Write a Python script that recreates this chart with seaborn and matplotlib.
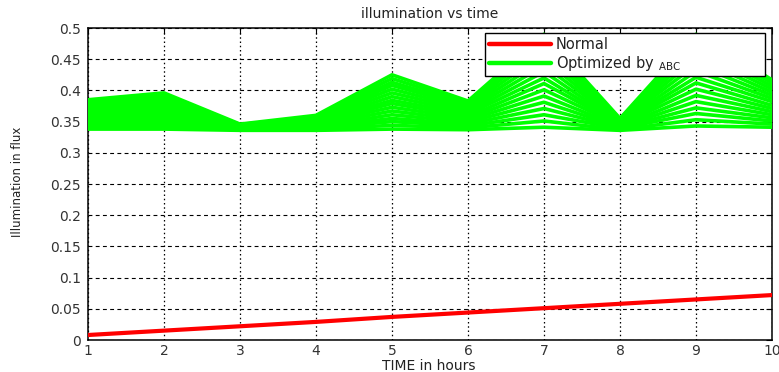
import numpy as np
import pandas as pd
import matplotlib
matplotlib.use("Agg")
import matplotlib.pyplot as plt
from matplotlib.lines import Line2D
import seaborn as sns

# ---------------- data ----------------
time_hours = [1, 2, 3, 4, 5, 6, 7, 8, 9, 10]
normal = [0.008, 0.015, 0.022, 0.029, 0.037, 0.044, 0.051, 0.058, 0.065, 0.072]

opt_01 = [0.338, 0.338, 0.336, 0.336, 0.338, 0.337, 0.341, 0.336, 0.343, 0.341]
opt_02 = [0.341, 0.342, 0.337, 0.338, 0.344, 0.340, 0.351, 0.337, 0.353, 0.346]
opt_03 = [0.344, 0.346, 0.337, 0.339, 0.350, 0.343, 0.361, 0.339, 0.363, 0.351]
opt_04 = [0.347, 0.350, 0.338, 0.341, 0.355, 0.346, 0.371, 0.340, 0.372, 0.356]
opt_05 = [0.351, 0.353, 0.339, 0.342, 0.361, 0.349, 0.381, 0.341, 0.382, 0.361]
opt_06 = [0.354, 0.357, 0.339, 0.344, 0.367, 0.352, 0.391, 0.342, 0.392, 0.366]
opt_07 = [0.357, 0.361, 0.340, 0.346, 0.373, 0.355, 0.401, 0.344, 0.402, 0.371]
opt_08 = [0.360, 0.365, 0.341, 0.347, 0.379, 0.358, 0.411, 0.345, 0.412, 0.376]
opt_09 = [0.363, 0.369, 0.341, 0.349, 0.384, 0.362, 0.420, 0.346, 0.421, 0.382]
opt_10 = [0.366, 0.373, 0.342, 0.350, 0.390, 0.365, 0.430, 0.347, 0.431, 0.387]
opt_11 = [0.369, 0.377, 0.343, 0.352, 0.396, 0.368, 0.440, 0.349, 0.441, 0.392]
opt_12 = [0.372, 0.381, 0.343, 0.354, 0.402, 0.371, 0.450, 0.350, 0.451, 0.397]
opt_13 = [0.376, 0.384, 0.344, 0.355, 0.408, 0.374, 0.460, 0.351, 0.461, 0.402]
opt_14 = [0.379, 0.388, 0.345, 0.357, 0.413, 0.377, 0.470, 0.352, 0.470, 0.407]
opt_15 = [0.382, 0.392, 0.345, 0.358, 0.419, 0.380, 0.480, 0.354, 0.480, 0.412]
opt_16 = [0.385, 0.396, 0.346, 0.360, 0.425, 0.383, 0.490, 0.355, 0.490, 0.417]
optimized = [opt_01, opt_02, opt_03, opt_04, opt_05, opt_06, opt_07, opt_08,
             opt_09, opt_10, opt_11, opt_12, opt_13, opt_14, opt_15, opt_16]

y_ticks = [0, 0.05, 0.1, 0.15, 0.2, 0.25, 0.3, 0.35, 0.4, 0.45, 0.5]
y_tick_labels = ["0", "0.05", "0.1", "0.15", "0.2", "0.25", "0.3", "0.35", "0.4", "0.45", "0.5"]

title_text = "illumination vs time"
xlabel_text = "TIME in hours"
ylabel_text = "Illumination in flux"
legend_labels = ["Normal", r"Optimized by $_{\mathregular{ABC}}$"]

# ---------------- frames ----------------
df_norm = pd.DataFrame({"time": time_hours, "value": normal})
rows = []
for i, series in enumerate(optimized):
    for t, v in zip(time_hours, series):
        rows.append({"time": t, "value": v, "line": i})
df_opt = pd.DataFrame(rows)

# ---------------- style ----------------
sns.set_style("white")
plt.rcParams["font.family"] = ["DejaVu Sans"]
plt.rcParams["mathtext.default"] = "regular"

W, H = 779, 372
fig = plt.figure(figsize=(W / 100, H / 100), dpi=100)
L, R, T, B = 88, 772, 28, 340
ax = fig.add_axes([L / W, 1 - B / H, (R - L) / W, (B - T) / H])

RED = "#ff0000"
GREEN = "#00ff00"

sns.lineplot(data=df_norm, x="time", y="value", color=RED, linewidth=3.0,
             ax=ax, legend=False, zorder=3)
sns.lineplot(data=df_opt, x="time", y="value", units="line", estimator=None,
             color=GREEN, linewidth=2.6, ax=ax, legend=False, zorder=3)

ax.set_xlim(1, 10)
ax.set_ylim(0, 0.5)
ax.set_xticks(time_hours)
ax.set_xticklabels([str(t) for t in time_hours])
ax.set_yticks(y_ticks)
ax.set_yticklabels(y_tick_labels)
ax.set_xlabel("")
ax.set_ylabel("")

ax.set_axisbelow(True)
ax.xaxis.grid(True, color="black", linestyle=(0, (1.2, 2.2)), linewidth=0.9)
ax.yaxis.grid(True, color="black", linestyle=(0, (3.5, 3)), linewidth=0.8)

for s in ax.spines.values():
    s.set_visible(True)
    s.set_color("black")
    s.set_linewidth(1.1)

ax.tick_params(axis="both", direction="in", length=4, width=0.8,
               top=True, right=True, colors="black",
               labelcolor="#333333", labelsize=10)
ax.tick_params(axis="y", pad=5)
ax.tick_params(axis="x", pad=3)

fig.text(430 / W, 1 - 14 / H, title_text, ha="center", va="center",
         fontsize=10, color="#222222")
fig.text(429 / W, 1 - 366 / H, xlabel_text, ha="center", va="center",
         fontsize=10, color="#222222")
fig.text(18 / W, 1 - 182 / H, ylabel_text, ha="center", va="center",
         rotation=90, fontsize=8.5, color="#222222",
         family=["Liberation Sans Narrow", "DejaVu Sans"])

handles = [Line2D([0], [0], color=RED, linewidth=3.2),
           Line2D([0], [0], color=GREEN, linewidth=3.2)]
x0 = (485 - L) / (R - L)
x1 = (765 - L) / (R - L)
ytop = (B - 33) / (B - T)
ybot = (B - 73) / (B - T)
leg = ax.legend(handles, legend_labels, loc="upper left",
                bbox_to_anchor=(x0, ybot, x1 - x0, ytop - ybot), mode="expand",
                borderaxespad=0, frameon=True, fancybox=False, framealpha=1,
                edgecolor="black", fontsize=10.5, handlelength=4.3,
                handletextpad=0.3, borderpad=0.25, labelspacing=0.15)
leg.get_frame().set_linewidth(1.0)
for txt in leg.get_texts():
    txt.set_color("#222222")

fig.savefig("out.png", dpi=100)
